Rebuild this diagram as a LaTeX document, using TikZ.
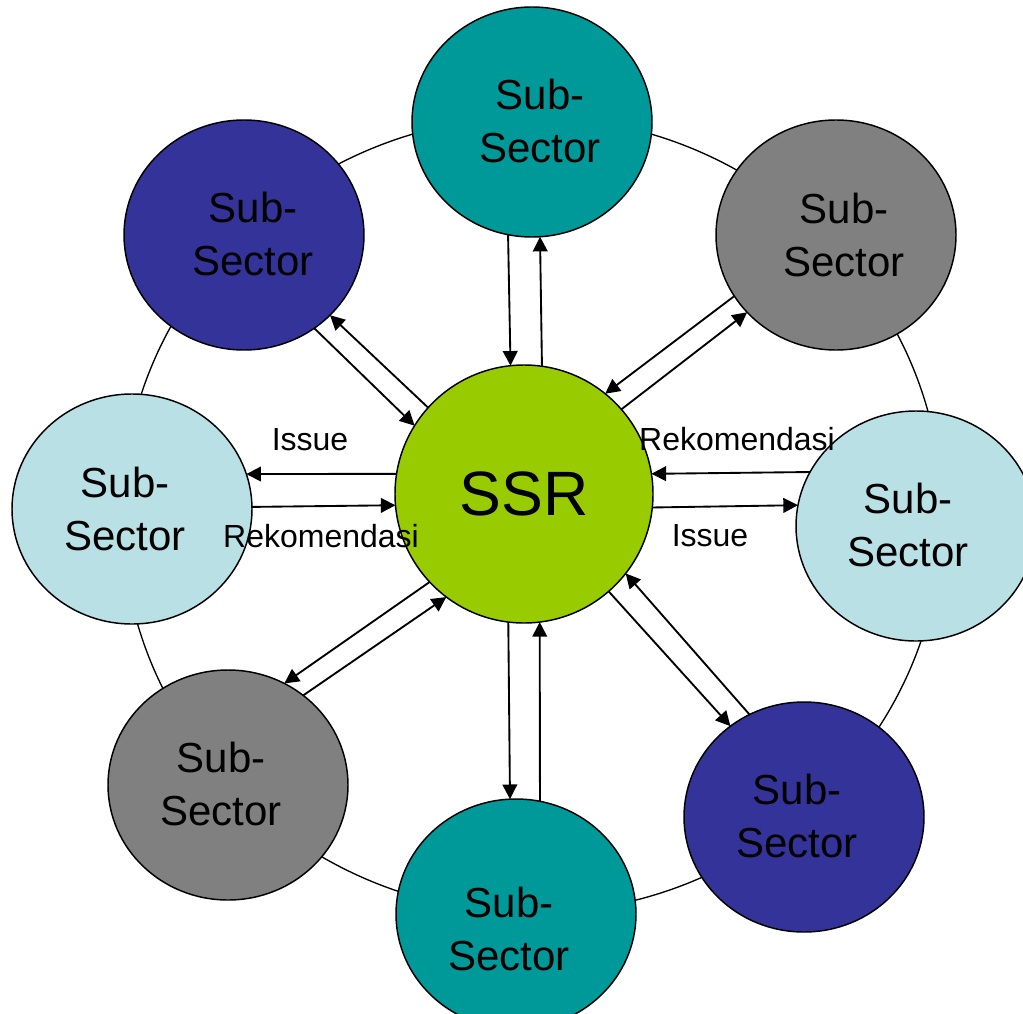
\documentclass[tikz,border=0pt]{standalone}
\usepackage{fontspec}
\setmainfont{Liberation Sans}
\usetikzlibrary{shapes.geometric,arrows.meta}
\definecolor{cteal}{HTML}{009999}
\definecolor{cnavy}{HTML}{333399}
\definecolor{cgray}{HTML}{808080}
\definecolor{clight}{HTML}{B9E0E4}
\definecolor{cgreen}{HTML}{99CC00}
\tikzset{
  sat/.style={ellipse, draw=black, line width=1.1pt, inner sep=0pt, outer sep=0pt,
    minimum width=180pt, minimum height=172.5pt},
  hub/.style={circle, draw=black, line width=1.1pt, inner sep=0pt, outer sep=0pt,
    minimum size=193.5pt},
  sattext/.style={align=center, inner sep=0pt, font=\fontsize{31.5}{39.75}\selectfont},
  lbl/.style={anchor=base, inner sep=0pt, font=\fontsize{24}{28}\selectfont},
  flow/.style={line width=1.4pt, -{Triangle[length=11pt,width=11pt]}},
  ring/.style={line width=1pt}
}
\begin{document}
\begin{tikzpicture}[x=0.75pt,y=-0.75pt]
\useasboundingbox (0,0) rectangle (1023,1013);
% ring
\draw[ring] (532,515) ellipse [x radius=410, y radius=398];
% nodes
\node[hub, fill=cgreen] (S) at (524,494) {};
\node[sat, fill=cteal]  (T)  at (532,122) {};
\node[sat, fill=cnavy]  (TL) at (244,235) {};
\node[sat, fill=cgray]  (TR) at (836,235) {};
\node[sat, fill=clight] (L)  at (132,509) {};
\node[sat, fill=clight] (R)  at (916,526) {};
\node[sat, fill=cgray]  (BL) at (228,785) {};
\node[sat, fill=cteal]  (B)  at (516,914) {};
\node[sat, fill=cnavy]  (BR) at (804,817) {};
% texts
\node[inner sep=0pt, font=\fontsize{47}{56}\selectfont] (ssrtext) at (524,494) {SSR};
\node[sattext] (tT)  at (540,121) {Sub-\\Sector};
\node[sattext] (tTL) at (253,234) {Sub-\\Sector};
\node[sattext] (tTR) at (844,235) {Sub-\\Sector};
\node[sattext] (tL)  at (125,509) {Sub-\\Sector};
\node[sattext] (tR)  at (908,525) {Sub-\\Sector};
\node[sattext] (tBL) at (221,784) {Sub-\\Sector};
\node[sattext] (tB)  at (509,929) {Sub-\\Sector};
\node[sattext] (tBR) at (797,816) {Sub-\\Sector};
% arrows
\draw[flow] (T.258.5) -- (S.96.7);
\draw[flow] (S.82.9) -- (T.274);
\draw[flow] (S.263.3) -- (B.93.5);
\draw[flow] (B.78) -- (S.277.1);
\draw[flow] (S.171.1) -- (L.17);
\draw[flow] (L.1.5) -- (S.185.3);
\draw[flow] (R.153.5) -- (S.9.4);
\draw[flow] (S.354.7) -- (R.170.4);
\draw[flow] (TL.307.5) -- (S.148);
\draw[flow] (S.138.7) -- (TL.317.7);
\draw[flow] (TR.211) -- (S.51.2);
\draw[flow] (S.41.6) -- (TR.221.2);
\draw[flow] (S.223.5) -- (BL.61.1);
\draw[flow] (BL.50.3) -- (S.233.5);
\draw[flow] (S.311.7) -- (BR.129.4);
\draw[flow] (BR.118.9) -- (S.322.2);
% labels
\node[lbl] (l1) at (310,450) {Issue};
\node[lbl] (l2) at (321,547) {Rekomendasi};
\node[lbl] (l3) at (737,450) {Rekomendasi};
\node[lbl] (l4) at (710,546) {Issue};
\end{tikzpicture}
\end{document}
